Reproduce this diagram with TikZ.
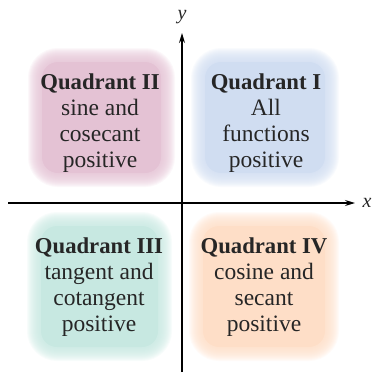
\documentclass[tikz,border=0pt]{standalone}
\usepackage{fontspec}
\setmainfont{Liberation Serif}
\usetikzlibrary{arrows.meta}

\definecolor{quadpink}{RGB}{228,194,212}
\definecolor{quadblue}{RGB}{208,221,241}
\definecolor{quadteal}{RGB}{199,232,225}
\definecolor{quadorange}{RGB}{254,222,199}

\tikzset{
  axis/.style={line width=1.2pt, -{Stealth[length=10pt,width=6pt]}},
  quadtext/.style={align=center, inner sep=0pt, text=black!85, font=\fontsize{23.5}{26}\selectfont},
  axislabel/.style={inner sep=0pt, text=black!85, font=\fontsize{20}{20}\selectfont\itshape},
}
\newcommand{\qhead}[1]{{\fontsize{22.7}{26}\selectfont\bfseries #1}}
% soft edged box: colour, corner, corner
\newcommand{\softbox}[3]{%
  \foreach \w in {2,4,...,28}
    \draw[#1, draw opacity=0.12, line width=\w pt, rounded corners=16pt] #2 rectangle #3;
  \fill[#1, rounded corners=16pt] #2 rectangle #3;
}

\begin{document}
\begin{tikzpicture}[x=1pt, y=-1pt]
    \useasboundingbox (0,0) rectangle (374,372);

    % Quadrant boxes
    \softbox{quadpink}{(42,62)}{(161,173)}
    \softbox{quadblue}{(205,62)}{(325,173)}
    \softbox{quadteal}{(41,226)}{(158,347)}
    \softbox{quadorange}{(203,226)}{(325,347)}

    % Axes
    \coordinate (xs) at (8,203);
    \coordinate (xe) at (355,203);
    \coordinate (ys) at (182,372);
    \coordinate (ye) at (182,33);
    \draw[axis] (xs) -- (xe);
    \draw[axis] (ys) -- (ye);
    \node[axislabel] (xlab) at (367,203) {x};
    \node[axislabel] (ylab) at (182,17) {y};

    % Quadrant texts
    \node[quadtext] (q2) at (100,123.5) {\qhead{Quadrant II}\\ sine and\\ cosecant\\ positive};
    \node[quadtext] (q1) at (266,123.5) {\qhead{Quadrant I}\\ All\\ functions\\ positive};
    \node[quadtext] (q3) at (99,287.5) {\qhead{Quadrant III}\\ tangent and\\ cotangent\\ positive};
    \node[quadtext] (q4) at (264,287.5) {\qhead{Quadrant IV}\\ cosine and\\ secant\\ positive};
\end{tikzpicture}
\end{document}
